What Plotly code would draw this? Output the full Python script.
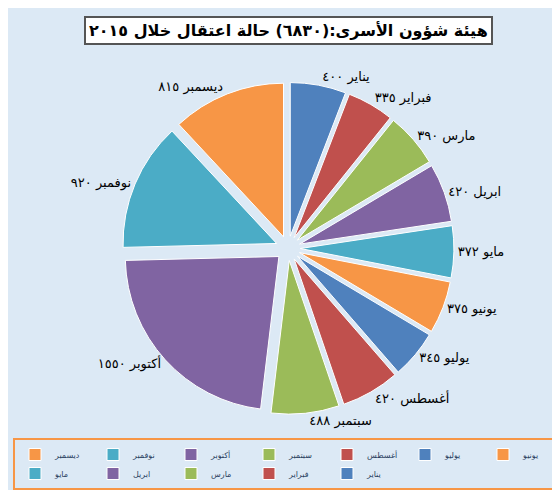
import plotly.graph_objects as go

months = ["يناير", "فبراير", "مارس", "ابريل", "مايو", "يونيو",
          "يوليو", "أغسطس", "سبتمبر", "أكتوبر", "نوفمبر", "ديسمبر"]
counts = [400, 335, 390, 420, 372, 375, 345, 420, 488, 1550, 920, 815]
colors = ["#4F81BD", "#C0504D", "#9BBB59", "#8064A2", "#4BACC6", "#F79646"] * 2


def ar_digits(n):
    return str(n).translate(str.maketrans("0123456789", "٠١٢٣٤٥٦٧٨٩"))


labels_txt = [f"{m} {ar_digits(v)}" for m, v in zip(months, counts)]

fig = go.Figure(go.Pie(
    labels=months, values=counts, text=labels_txt,
    textinfo="text", textposition="outside",
    sort=False, direction="clockwise", rotation=0,
    pull=[0.08] * 12,
    marker=dict(colors=colors, line=dict(color="white", width=1)),
    textfont=dict(size=13, color="black", family="DejaVu Sans"),
    domain=dict(x=[0.18, 0.82], y=[0.16, 0.86]),
))

# title in a bordered box
fig.add_annotation(
    text="<b>هيئة شؤون الأسرى:(٦٨٣٠) حالة اعتقال خلال ٢٠١٥</b>",
    x=0.5, y=1.0, xref="paper", yref="paper", xanchor="center", yanchor="top",
    showarrow=False, font=dict(size=16, color="black"),
    bgcolor="white", bordercolor="#555555", borderwidth=2, borderpad=3,
)

fig.update_layout(
    width=560, height=490,
    paper_bgcolor="#DCE9F5",
    margin=dict(l=8, r=8, t=8, b=8),
    font=dict(family="DejaVu Sans"),
    legend=dict(orientation="h", x=0.5, xanchor="center", y=0.0, yanchor="bottom",
                bordercolor="#F79646", borderwidth=2, bgcolor="#DCE9F5",
                font=dict(size=8), traceorder="reversed",
                entrywidth=33, itemwidth=30),
)
fig.write_html("out.html")
